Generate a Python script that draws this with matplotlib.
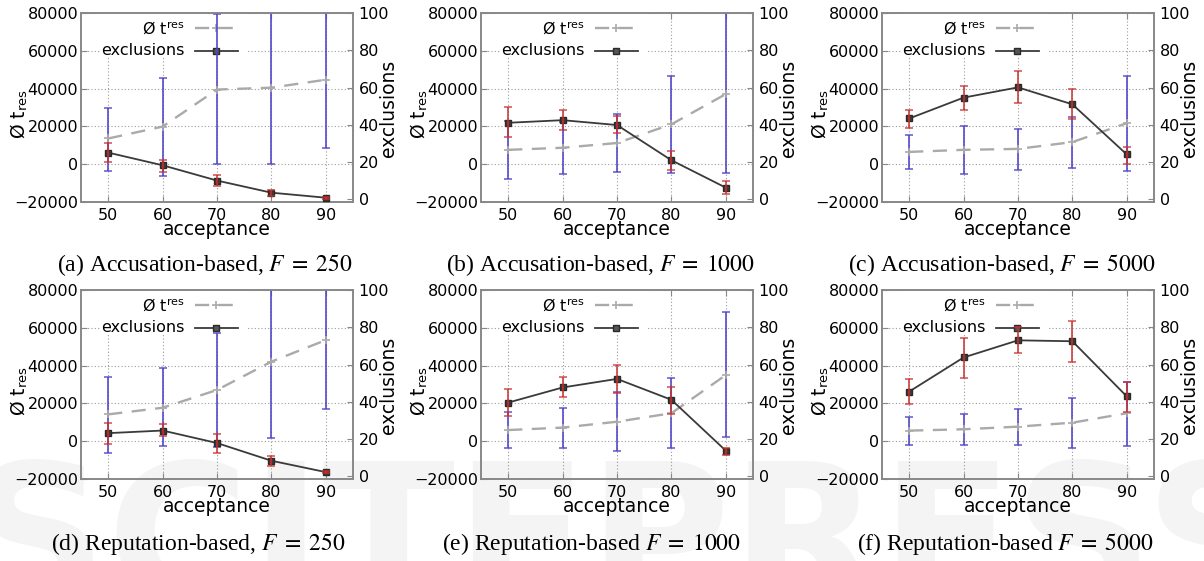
import matplotlib
matplotlib.use("Agg")
import matplotlib.pyplot as plt
from matplotlib.lines import Line2D
from matplotlib.patches import Rectangle
import numpy as np

plt.rcParams["font.family"] = ["DejaVu Sans"]
plt.rcParams["mathtext.fontset"] = "stix"

acceptance = [50, 60, 70, 80, 90]

# (a) Accusation-based, F = 250
acc250_tres = [13600, 19900, 39500, 40500, 44700]
acc250_tres_lo = [-3500, -6000, 0, 0, 8800]
acc250_tres_hi = [29700, 45600, 79700, 81000, 80600]
acc250_excl = [25.1, 18.3, 10.1, 3.6, 0.9]
acc250_excl_lo = [20.1, 14.7, 7.2, 1.6, 0.2]
acc250_excl_hi = [30.0, 21.0, 12.9, 5.2, 1.4]

# (b) Accusation-based, F = 1000
acc1000_tres = [7600, 8700, 11200, 21100, 37100]
acc1000_tres_lo = [-7800, -5100, -4100, -4800, -4800]
acc1000_tres_hi = [23000, 22500, 26500, 46800, 80500]
acc1000_excl = [41.1, 42.5, 39.9, 21.0, 6.3]
acc1000_excl_lo = [33.4, 37.2, 35.7, 15.6, 2.7]
acc1000_excl_hi = [49.4, 47.9, 44.9, 26.0, 9.9]

# (c) Accusation-based, F = 5000
acc5000_tres = [6500, 7600, 8100, 11700, 21700]
acc5000_tres_lo = [-2700, -5100, -3200, -1800, -3500]
acc5000_tres_hi = [15500, 20100, 18500, 24900, 46600]
acc5000_excl = [43.4, 54.6, 60.1, 51.0, 24.1]
acc5000_excl_lo = [38.4, 47.8, 51.9, 42.9, 19.2]
acc5000_excl_hi = [47.9, 61.0, 68.8, 59.1, 28.2]

# (d) Reputation-based, F = 250
rep250_tres = [14200, 17700, 27100, 42100, 53500]
rep250_tres_lo = [-6200, -2500, -2900, 1900, 16900]
rep250_tres_hi = [34100, 38600, 57100, 82300, 90100]
rep250_excl = [23.2, 24.6, 17.9, 8.4, 2.3]
rep250_excl_lo = [17.3, 21.8, 12.5, 5.4, 1.8]
rep250_excl_hi = [28.6, 28.0, 22.7, 11.1, 3.0]

# (e) Reputation-based, F = 1000
rep1000_tres = [5900, 7200, 10300, 14800, 35000]
rep1000_tres_lo = [-3800, -3800, -5200, -3800, 2100]
rep1000_tres_hi = [15700, 17500, 25800, 33600, 68200]
rep1000_excl = [39.6, 47.7, 52.3, 41.1, 13.8]
rep1000_excl_lo = [32.5, 42.5, 44.6, 33.6, 11.6]
rep1000_excl_hi = [47.0, 53.2, 60.0, 48.2, 15.5]

# (f) Reputation-based, F = 5000
rep5000_tres = [5600, 6300, 7700, 9800, 14800]
rep5000_tres_lo = [-2000, -2000, -2000, -3400, -2500]
rep5000_tres_hi = [13000, 14200, 17200, 23000, 31500]
rep5000_excl = [45.5, 63.8, 73.0, 72.5, 42.9]
rep5000_excl_lo = [38.6, 52.7, 66.4, 61.6, 34.3]
rep5000_excl_hi = [52.5, 74.5, 80.4, 83.4, 50.9]

captions = [
    r"(a) Accusation-based, $F\;=\;250$",
    r"(b) Accusation-based, $F\;=\;1000$",
    r"(c) Accusation-based, $F\;=\;5000$",
    r"(d) Reputation-based, $F\;=\;250$",
    r"(e) Reputation-based $F\;=\;1000$",
    r"(f) Reputation-based $F\;=\;5000$",
]

legend_labels = ["Ø t$^\\mathregular{res}$", "exclusions"]

panels = [
    (acc250_tres, acc250_tres_lo, acc250_tres_hi, acc250_excl, acc250_excl_lo, acc250_excl_hi),
    (acc1000_tres, acc1000_tres_lo, acc1000_tres_hi, acc1000_excl, acc1000_excl_lo, acc1000_excl_hi),
    (acc5000_tres, acc5000_tres_lo, acc5000_tres_hi, acc5000_excl, acc5000_excl_lo, acc5000_excl_hi),
    (rep250_tres, rep250_tres_lo, rep250_tres_hi, rep250_excl, rep250_excl_lo, rep250_excl_hi),
    (rep1000_tres, rep1000_tres_lo, rep1000_tres_hi, rep1000_excl, rep1000_excl_lo, rep1000_excl_hi),
    (rep5000_tres, rep5000_tres_lo, rep5000_tres_hi, rep5000_excl, rep5000_excl_lo, rep5000_excl_hi),
]

W, H = 1204, 561
fig = plt.figure(figsize=(W / 100, H / 100), dpi=100)
fig.patch.set_facecolor("white")

# faint publisher watermark behind everything
fig.text(0.52, -0.075, "SCITEPRESS", fontsize=140, fontweight="bold",
         color="#f4f4f4", ha="center", va="baseline", zorder=-5)

col_left = [81, 481, 882]
row_top = [13, 290]
ax_w, ax_h = 272, 189
cap_x = [205, 600, 1002, 198, 591, 1005]
cap_y = [271, 271, 271, 550, 550, 550]

spine_col = "#888888"
grid_col = "#9a9a9a"
tres_col = "#aaaaaa"
blue_col = "#5045c8"
red_col = "#c83030"
excl_col = "#3a3a3a"

tres_style = dict(color=tres_col, lw=1.7, dashes=(6, 4), marker="+",
                  ms=6, mew=1.2)
excl_style = dict(color=excl_col, lw=1.3, marker="s", ms=5,
                  mec="#2a2a2a")

x = np.array(acceptance, dtype=float)

for i, (tres, tlo, thi, excl, elo, ehi) in enumerate(panels):
    r, c = divmod(i, 3)
    left = col_left[c]
    top = row_top[r]
    ax = fig.add_axes([left / W, 1 - (top + ax_h) / H, ax_w / W, ax_h / H])
    ax.patch.set_alpha(0)
    ax2 = ax.twinx()
    ax2.patch.set_alpha(0)

    tres = np.array(tres, float)
    tlo = np.array(tlo, float)
    thi = np.array(thi, float)
    excl = np.array(excl, float)
    elo = np.array(elo, float)
    ehi = np.array(ehi, float)

    ax.set_xlim(45, 95)
    ax.set_ylim(-20000, 80000)
    ax2.set_ylim(-1.4, 100)
    ax.set_xticks(acceptance)
    ax.set_yticks([-20000, 0, 20000, 40000, 60000, 80000])
    ax2.set_yticks([0, 20, 40, 60, 80, 100])

    ax.grid(True, color=grid_col, linestyle=(0, (1, 2)), linewidth=0.8)

    # t_res with its spread
    ax.errorbar(x, tres, yerr=[tres - tlo, thi - tres], fmt="none",
                ecolor=blue_col, elinewidth=1.3, capsize=3, capthick=1.1,
                alpha=0.9, zorder=3)
    ax.plot(x, tres, zorder=4, **tres_style)

    # exclusions with its spread
    ax2.plot(x, excl, mfc="#4a3535", zorder=3, **excl_style)
    ax2.errorbar(x, excl, yerr=[excl - elo, ehi - excl], fmt="none",
                 ecolor=red_col, elinewidth=1.3, capsize=3, capthick=1.1,
                 alpha=0.85, zorder=4)

    # key box: hides the grid, stays under the data
    ax.add_patch(Rectangle((0.07, 0.762), 0.535, 0.238,
                           transform=ax.transAxes, facecolor="white",
                           edgecolor="none", zorder=2.5))
    for k, (yk, lab) in enumerate(zip((0.921, 0.799), legend_labels)):
        ax.text(0.382, yk, lab, transform=ax.transAxes, ha="right",
                va="center", fontsize=11.5, zorder=2.6)
        style = tres_style if k == 0 else dict(excl_style, mfc="#555555")
        ax.add_line(Line2D([0.419, 0.498, 0.577], [yk, yk, yk],
                           transform=ax.transAxes, markevery=[1],
                           zorder=2.6, **style))

    for a in (ax, ax2):
        for s in a.spines.values():
            s.set_color(spine_col)
            s.set_linewidth(1.2)

    ax.tick_params(axis="x", direction="in", top=True, length=4,
                   color=spine_col, labelsize=11.5, pad=4)
    ax.tick_params(axis="y", direction="in", right=False, length=4,
                   color=spine_col, labelsize=11.5, pad=2)
    ax2.tick_params(axis="y", direction="in", length=4, color=spine_col,
                    labelsize=11.5, pad=4)

    ax.set_xlabel("acceptance", fontsize=13.5, va="center")
    ax.xaxis.set_label_coords(0.5, -0.148)
    ax.set_ylabel("Ø t$_\\mathregular{res}$", fontsize=13.5, va="center")
    ax.yaxis.set_label_coords(-0.228, 0.466)
    ax2.set_ylabel("exclusions", fontsize=13.5, va="center", rotation=90)
    ax2.yaxis.set_label_coords(1.129, 0.495)

    fig.text(cap_x[i] / W, 1 - cap_y[i] / H, captions[i], ha="center",
             va="baseline", fontsize=17, family="Liberation Serif")

fig.savefig("out.png", dpi=100)
